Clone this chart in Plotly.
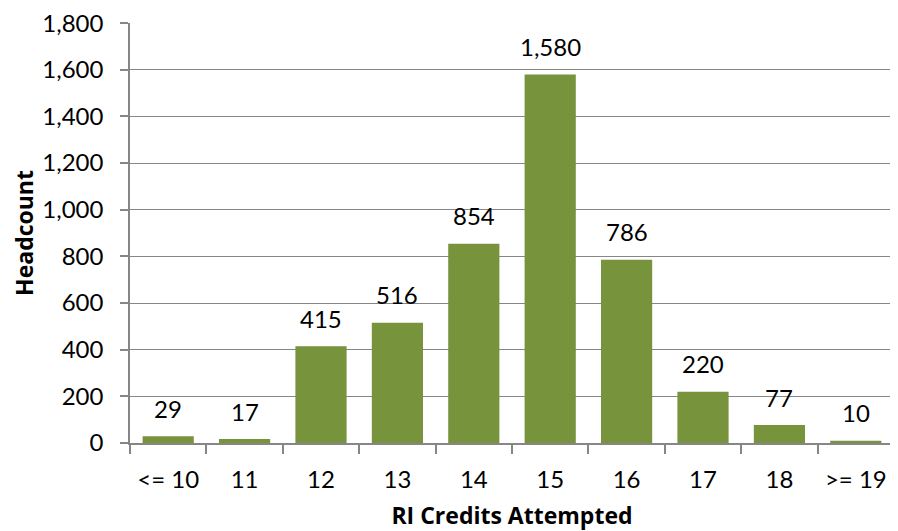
import plotly.graph_objects as go

categories = ["<= 10", "11", "12", "13", "14", "15", "16", "17", "18", ">= 19"]
headcount = [29, 17, 415, 516, 854, 1580, 786, 220, 77, 10]
y_ticks = list(range(0, 1801, 200))

FONT = "Lato"
TFONT = "Open Sans"
BAR = "#77933C"
AX = "#868686"

fig = go.Figure()
fig.add_trace(go.Bar(x=list(range(len(categories))), y=headcount,
                     marker=dict(color=BAR, line=dict(width=0)),
                     hovertext=categories, hoverinfo="text+y"))

for i, v in enumerate(headcount):
    fig.add_annotation(x=i, y=v, text=f"{v:,}", showarrow=False, yshift=28,
                       font=dict(family=FONT, size=24, color="#000000"))

fig.update_layout(
    width=890, height=523,
    margin=dict(l=122, r=4, t=15, b=88),
    paper_bgcolor="white", plot_bgcolor="white",
    bargap=0.33,
    showlegend=False,
    font=dict(family=FONT, size=24, color="#000000"),
)
fig.update_xaxes(
    automargin=False,
    range=[-0.5, len(categories) - 0.5],
    tickvals=list(range(len(categories))), ticktext=categories, tickangle=0,
    showline=True, linecolor=AX, linewidth=1.5,
    ticks="", showgrid=False, zeroline=False, ticklabelstandoff=14,
    minor=dict(tickvals=[i - 0.5 for i in range(len(categories) + 1)], ticks="outside",
               ticklen=9, tickcolor=AX, tickwidth=1.5, showgrid=False),
    title=dict(text="<b>RI Credits Attempted</b>", font=dict(family=TFONT, size=23), standoff=20),
    tickfont=dict(family=FONT, size=24),
)
fig.update_yaxes(
    automargin=False,
    range=[0, 1800.5], tickvals=y_ticks, tickformat=",d",
    showline=True, linecolor=AX, linewidth=1.5,
    ticks="outside", ticklen=8, tickcolor=AX, tickwidth=1.5, ticklabelstandoff=12,
    showgrid=True, gridcolor=AX, gridwidth=1.2, zeroline=False,
    ticklabeloverflow="allow",
    title=dict(text="<b>Headcount</b>", font=dict(family=TFONT, size=23), standoff=33),
    tickfont=dict(family=FONT, size=24),
)

fig.write_html("out.html")
